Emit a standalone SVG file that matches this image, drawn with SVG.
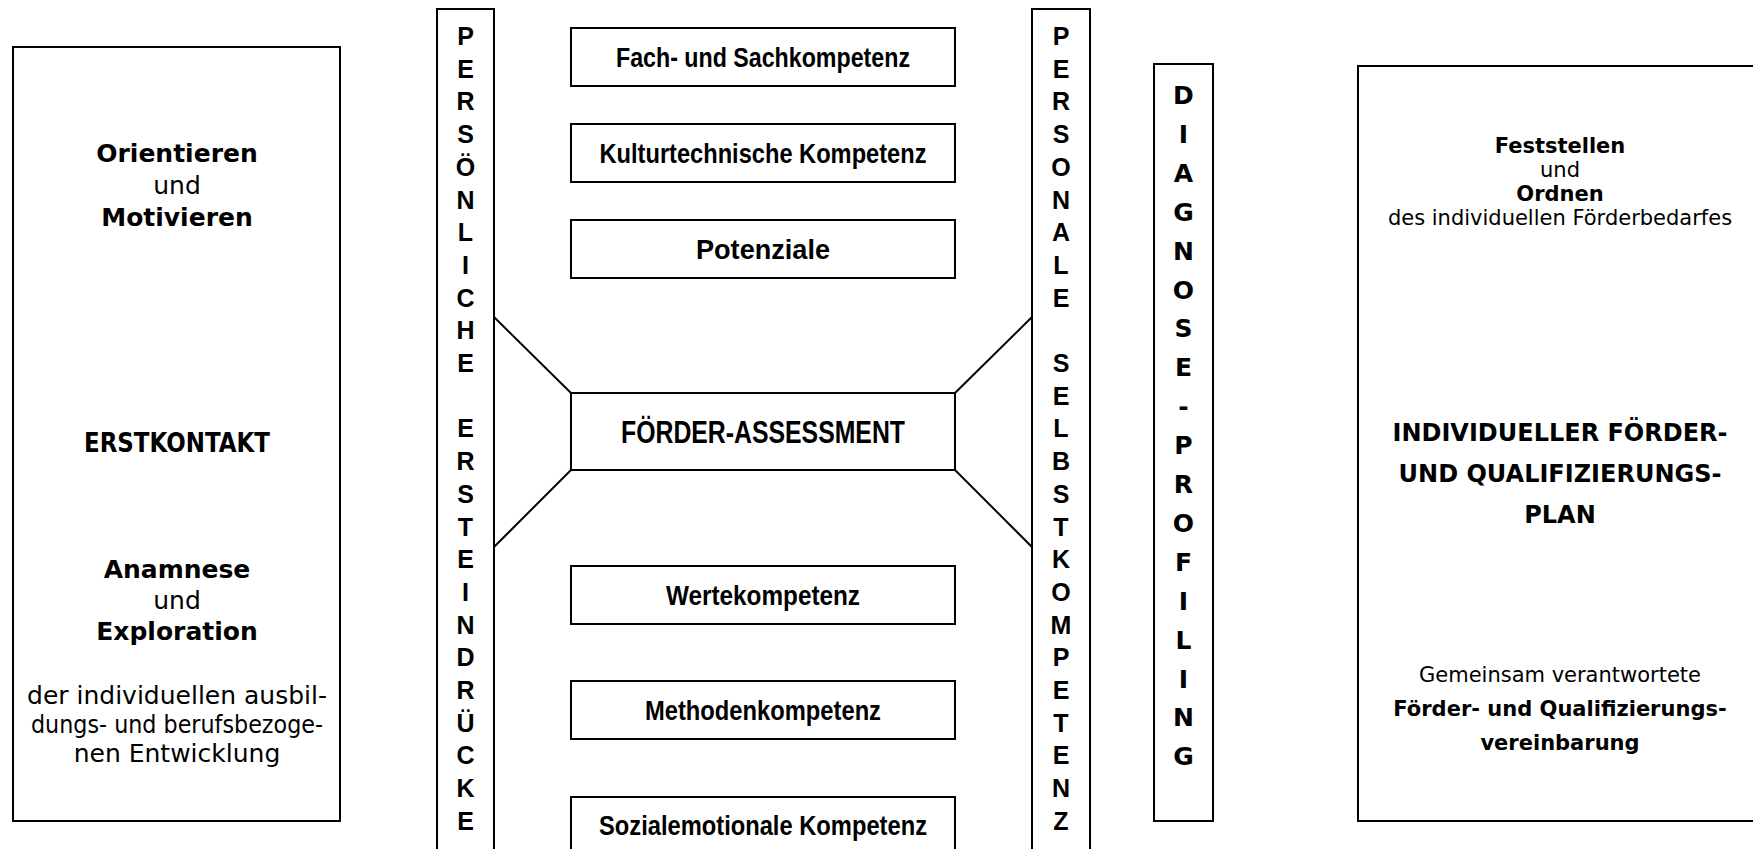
<svg xmlns="http://www.w3.org/2000/svg" width="1753" height="849" viewBox="0 0 1753 849">
<style>
.box{fill:#fff;stroke:#000;stroke-width:2}
.ln{stroke:#000;stroke-width:2;fill:none}
.s{font-family:"DejaVu Sans",Verdana,sans-serif;fill:#000;text-anchor:middle}
.b{font-weight:bold}
.c{font-family:"Liberation Sans",Arial,sans-serif;font-weight:bold;fill:#000;text-anchor:middle}
.v{font-family:"Liberation Sans",Arial,sans-serif;font-weight:bold;font-size:25px;fill:#000;text-anchor:middle}
.d{font-family:"DejaVu Sans",Verdana,sans-serif;font-weight:bold;font-size:25px;fill:#000;text-anchor:middle}
</style>
<rect width="1753" height="849" fill="#fff"/>
<g id="erstkontakt">
<rect class="box" x="13" y="47" width="327" height="774"/>
<text class="s" font-size="25"><tspan class="b" x="177" y="162">Orientieren</tspan><tspan x="177" y="194">und</tspan><tspan class="b" x="177" y="226">Motivieren</tspan></text>
<text class="s b" font-size="27" x="177" y="452" textLength="186" lengthAdjust="spacingAndGlyphs">ERSTKONTAKT</text>
<text class="s" font-size="25"><tspan class="b" x="177" y="578">Anamnese</tspan><tspan x="177" y="609">und</tspan><tspan class="b" x="177" y="640">Exploration</tspan></text>
<text class="s" font-size="25" x="177" y="704">der individuellen ausbil-</text>
<text class="s" font-size="25" x="177" y="733" textLength="292" lengthAdjust="spacingAndGlyphs">dungs- und berufsbezoge-</text>
<text class="s" font-size="25" x="177" y="762">nen Entwicklung</text>
</g>
<g id="persoenliche-ersteindruecke">
<rect class="box" x="437" y="9" width="57" height="860"/>
<text class="v"><tspan x="465.5" y="45">P</tspan><tspan x="465.5" y="77.7">E</tspan><tspan x="465.5" y="110.4">R</tspan><tspan x="465.5" y="143.1">S</tspan><tspan x="465.5" y="175.8">Ö</tspan><tspan x="465.5" y="208.5">N</tspan><tspan x="465.5" y="241.2">L</tspan><tspan x="465.5" y="273.9">I</tspan><tspan x="465.5" y="306.6">C</tspan><tspan x="465.5" y="339.3">H</tspan><tspan x="465.5" y="372">E</tspan><tspan x="465.5" y="437.4">E</tspan><tspan x="465.5" y="470.1">R</tspan><tspan x="465.5" y="502.8">S</tspan><tspan x="465.5" y="535.5">T</tspan><tspan x="465.5" y="568.2">E</tspan><tspan x="465.5" y="600.9">I</tspan><tspan x="465.5" y="633.6">N</tspan><tspan x="465.5" y="666.3">D</tspan><tspan x="465.5" y="699">R</tspan><tspan x="465.5" y="731.7">Ü</tspan><tspan x="465.5" y="764.4">C</tspan><tspan x="465.5" y="797.1">K</tspan><tspan x="465.5" y="829.8">E</tspan></text>
</g>
<g id="fach">
<rect class="box" x="571" y="28" width="384" height="58"/>
<text class="c" font-size="28" x="763" y="67" textLength="294" lengthAdjust="spacingAndGlyphs">Fach- und Sachkompetenz</text>
</g>
<g id="kultur">
<rect class="box" x="571" y="124" width="384" height="58"/>
<text class="c" font-size="28" x="763" y="163" textLength="327" lengthAdjust="spacingAndGlyphs">Kulturtechnische Kompetenz</text>
</g>
<g id="potenziale">
<rect class="box" x="571" y="220" width="384" height="58"/>
<text class="c" font-size="28" x="763" y="259" textLength="134" lengthAdjust="spacingAndGlyphs">Potenziale</text>
</g>
<g id="foerder-assessment">
<rect class="box" x="571" y="393" width="384" height="77"/>
<text class="c" font-size="32" x="763" y="443" textLength="284" lengthAdjust="spacingAndGlyphs">FÖRDER-ASSESSMENT</text>
</g>
<g id="werte">
<rect class="box" x="571" y="566" width="384" height="58"/>
<text class="c" font-size="28" x="763" y="605" textLength="194" lengthAdjust="spacingAndGlyphs">Wertekompetenz</text>
</g>
<g id="methoden">
<rect class="box" x="571" y="681" width="384" height="58"/>
<text class="c" font-size="28" x="763" y="720" textLength="236" lengthAdjust="spacingAndGlyphs">Methodenkompetenz</text>
</g>
<g id="sozial">
<rect class="box" x="571" y="797" width="384" height="60"/>
<text class="c" font-size="28" x="763" y="835" textLength="328" lengthAdjust="spacingAndGlyphs">Sozialemotionale Kompetenz</text>
</g>
<g id="personale-selbstkompetenz">
<rect class="box" x="1032" y="9" width="58" height="860"/>
<text class="v"><tspan x="1061" y="45">P</tspan><tspan x="1061" y="77.7">E</tspan><tspan x="1061" y="110.4">R</tspan><tspan x="1061" y="143.1">S</tspan><tspan x="1061" y="175.8">O</tspan><tspan x="1061" y="208.5">N</tspan><tspan x="1061" y="241.2">A</tspan><tspan x="1061" y="273.9">L</tspan><tspan x="1061" y="306.6">E</tspan><tspan x="1061" y="372">S</tspan><tspan x="1061" y="404.7">E</tspan><tspan x="1061" y="437.4">L</tspan><tspan x="1061" y="470.1">B</tspan><tspan x="1061" y="502.8">S</tspan><tspan x="1061" y="535.5">T</tspan><tspan x="1061" y="568.2">K</tspan><tspan x="1061" y="600.9">O</tspan><tspan x="1061" y="633.6">M</tspan><tspan x="1061" y="666.3">P</tspan><tspan x="1061" y="699">E</tspan><tspan x="1061" y="731.7">T</tspan><tspan x="1061" y="764.4">E</tspan><tspan x="1061" y="797.1">N</tspan><tspan x="1061" y="829.8">Z</tspan></text>
</g>
<g id="diagnose-profiling">
<rect class="box" x="1154" y="64" width="59" height="757"/>
<text class="d"><tspan x="1183.5" y="104">D</tspan><tspan x="1183.5" y="142.9">I</tspan><tspan x="1183.5" y="181.8">A</tspan><tspan x="1183.5" y="220.7">G</tspan><tspan x="1183.5" y="259.6">N</tspan><tspan x="1183.5" y="298.5">O</tspan><tspan x="1183.5" y="337.4">S</tspan><tspan x="1183.5" y="376.3">E</tspan><tspan x="1183.5" y="415.2">-</tspan><tspan x="1183.5" y="454.1">P</tspan><tspan x="1183.5" y="493">R</tspan><tspan x="1183.5" y="531.9">O</tspan><tspan x="1183.5" y="570.8">F</tspan><tspan x="1183.5" y="609.7">I</tspan><tspan x="1183.5" y="648.6">L</tspan><tspan x="1183.5" y="687.5">I</tspan><tspan x="1183.5" y="726.4">N</tspan><tspan x="1183.5" y="765.3">G</tspan></text>
</g>
<g id="foerderplan">
<rect class="box" x="1358" y="66" width="420" height="755"/>
<text class="s" font-size="21"><tspan class="b" x="1560" y="153">Feststellen</tspan><tspan x="1560" y="177">und</tspan><tspan class="b" x="1560" y="201">Ordnen</tspan><tspan x="1560" y="225">des individuellen Förderbedarfes</tspan></text>
<text class="s b" font-size="24"><tspan x="1560" y="441">INDIVIDUELLER FÖRDER-</tspan><tspan x="1560" y="482">UND QUALIFIZIERUNGS-</tspan><tspan x="1560" y="523">PLAN</tspan></text>
<text class="s" font-size="21"><tspan x="1560" y="682">Gemeinsam verantwortete</tspan><tspan class="b" x="1560" y="716">Förder- und Qualifizierungs-</tspan><tspan class="b" x="1560" y="750">vereinbarung</tspan></text>
</g>
<g id="connectors">
<line class="ln" x1="494" y1="317" x2="571" y2="393"/>
<line class="ln" x1="494" y1="547" x2="571" y2="470"/>
<line class="ln" x1="955" y1="393" x2="1032" y2="317"/>
<line class="ln" x1="955" y1="470" x2="1032" y2="547"/>
</g>
</svg>
